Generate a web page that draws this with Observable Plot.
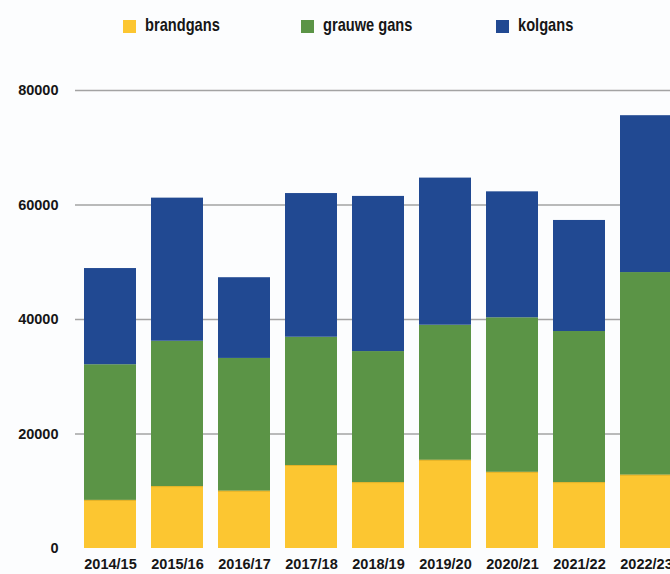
<!DOCTYPE html>
<html>
<head>
<meta charset="utf-8">
<script src="https://cdn.jsdelivr.net/npm/d3@7"></script>
<script src="https://cdn.jsdelivr.net/npm/@observablehq/plot@0.6"></script>
<style>
  html, body { margin: 0; padding: 0; background: #fcfdfe; overflow: hidden; }
  #wrap { width: 670px; height: 574px; position: relative; overflow: hidden; }
  #legend { position: relative; height: 50px; width: 670px; }
  .sw { position: absolute; top: 20px; width: 13px; height: 13px; }
  .lt { position: absolute; top: 13.5px; line-height: 22px; white-space: nowrap;
        font-family: "Liberation Sans", Arial, sans-serif;
        font-weight: bold; font-size: 19px; color: #161616;
        transform: scaleX(0.77); transform-origin: 0 50%; }
</style>
</head>
<body>
<div id="wrap">
  <div id="legend"></div>
  <div id="chart"></div>
</div>
<script>
const seasons = ["2014/15","2015/16","2016/17","2017/18","2018/19","2019/20","2020/21","2021/22","2022/23"];
const seriesNames = ["brandgans","grauwe gans","kolgans"];
const brandgans = [8400, 10800, 10000, 14500, 11500, 15400, 13300, 11500, 12800];
const grauweGans = [23700, 25400, 23200, 22400, 22900, 23600, 27000, 26400, 35400];
const kolgans = [16800, 25000, 14100, 25100, 27100, 25700, 22000, 19400, 27400];
const yTicks = [0, 20000, 40000, 60000, 80000];
const gridTicks = [20000, 40000, 60000, 80000];
const colors = ["#fcc631", "#5b9446", "#214992"];

const seriesValues = [brandgans, grauweGans, kolgans];
const data = [];
seriesNames.forEach((name, i) => {
  seasons.forEach((s, j) => data.push({season: s, soort: name, aantal: seriesValues[i][j]}));
});
const brandData = seasons.map((s, j) => ({season: s, aantal: brandgans[j]}));

// legend
const legendX = [123, 301, 496];
const legend = document.getElementById("legend");
seriesNames.forEach((name, i) => {
  const sw = document.createElement("span");
  sw.className = "sw";
  sw.style.left = legendX[i] + "px";
  sw.style.background = colors[i];
  const tx = document.createElement("span");
  tx.className = "lt";
  tx.style.left = (legendX[i] + 22) + "px";
  tx.textContent = name;
  legend.appendChild(sw);
  legend.appendChild(tx);
});

const chart = Plot.plot({
  width: 670,
  height: 524,
  marginTop: 40,
  marginBottom: 26,
  marginLeft: 75,
  marginRight: 0,
  style: {
    fontFamily: "'Liberation Sans', Arial, sans-serif",
    fontSize: "14.5px",
    fontWeight: "bold",
    background: "#fcfdfe",
    color: "#161616"
  },
  x: {domain: seasons, range: [75, 681], paddingInner: 0.224, paddingOuter: 0.134, label: null},
  y: {domain: [0, 80000], label: null},
  color: {domain: seriesNames, range: colors},
  marks: [
    Plot.ruleY(gridTicks, {stroke: "#a3a3a3", strokeWidth: 1.3}),
    Plot.barY(data, {x: "season", y: "aantal", fill: "soort", order: seriesNames}),
    Plot.tickY(brandData, {x: "season", y: "aantal", stroke: "#e2b127", strokeWidth: 1}),
    Plot.axisY({ticks: yTicks, tickSize: 0, tickPadding: 17, tickFormat: d3.format("d"), fill: "#161616"}),
    Plot.axisX({tickSize: 0, tickPadding: 10, fill: "#161616"})
  ]
});
document.getElementById("chart").appendChild(chart);
</script>
</body>
</html>
